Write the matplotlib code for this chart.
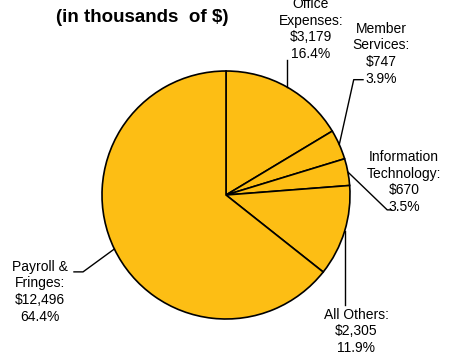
import numpy as np
import matplotlib

matplotlib.use("Agg")
import matplotlib.pyplot as plt

plt.rcParams["font.family"] = ["Liberation Sans", "DejaVu Sans"]

# slice values, clockwise from 12 o'clock
categories = ["Office\nExpenses:", "Member\nServices:", "Information\nTechnology:",
              "All Others:", "Payroll &\nFringes:"]
amounts = ["$3,179", "$747", "$670", "$2,305", "$12,496"]
shares = [16.4, 3.9, 3.5, 11.9, 64.4]

PIE_COLOR = "#FDBE14"

fig = plt.figure(figsize=(4.55, 3.6), dpi=100)
# pie centred at (226, 195) px, radius 124 px
ax = fig.add_axes([(226 - 124) / 455, (360 - 195 - 124) / 360, 248 / 455, 248 / 360])
wedges, _ = ax.pie(
    shares,
    startangle=90,
    counterclock=False,
    colors=[PIE_COLOR] * len(shares),
    wedgeprops=dict(edgecolor="black", linewidth=1.2),
)
ax.set_xlim(-1, 1)
ax.set_ylim(-1, 1)
ax.set_aspect("equal")
ax.axis("off")

# label placement (text centre) and leader-line elbows, in radius units
text_pos = [(0.685, 1.34), (1.25, 1.14), (1.435, 0.105), (1.05, -1.10), (-1.50, -0.78)]
elbows = [
    [(None, 1.09)],
    [(1.03, 0.93), (1.105, 0.93)],
    [(1.30, -0.12), (1.335, -0.12)],
    [(None, -0.89)],
    [(-1.153, -0.62), (-1.226, -0.62)],
]

for wedge, cat, amt, pct, (tx, ty), elb in zip(wedges, categories, amounts, shares,
                                              text_pos, elbows):
    mid = np.deg2rad((wedge.theta1 + wedge.theta2) / 2)
    x0, y0 = np.cos(mid), np.sin(mid)
    xs, ys = [x0], [y0]
    for ex, ey in elb:
        xs.append(x0 if ex is None else ex)
        ys.append(ey)
    ax.plot(xs, ys, color="black", linewidth=1.0, clip_on=False)
    ax.text(tx, ty, f"{cat}\n{amt}\n{pct:.1f}%", ha="center", va="center",
            fontsize=10, linespacing=1.24, clip_on=False)

fig.text(142 / 455, 1 - 18 / 360, "(in thousands  of $)", ha="center", va="center",
         fontsize=13.5, fontweight="bold")

fig.savefig("out.png", dpi=100)
